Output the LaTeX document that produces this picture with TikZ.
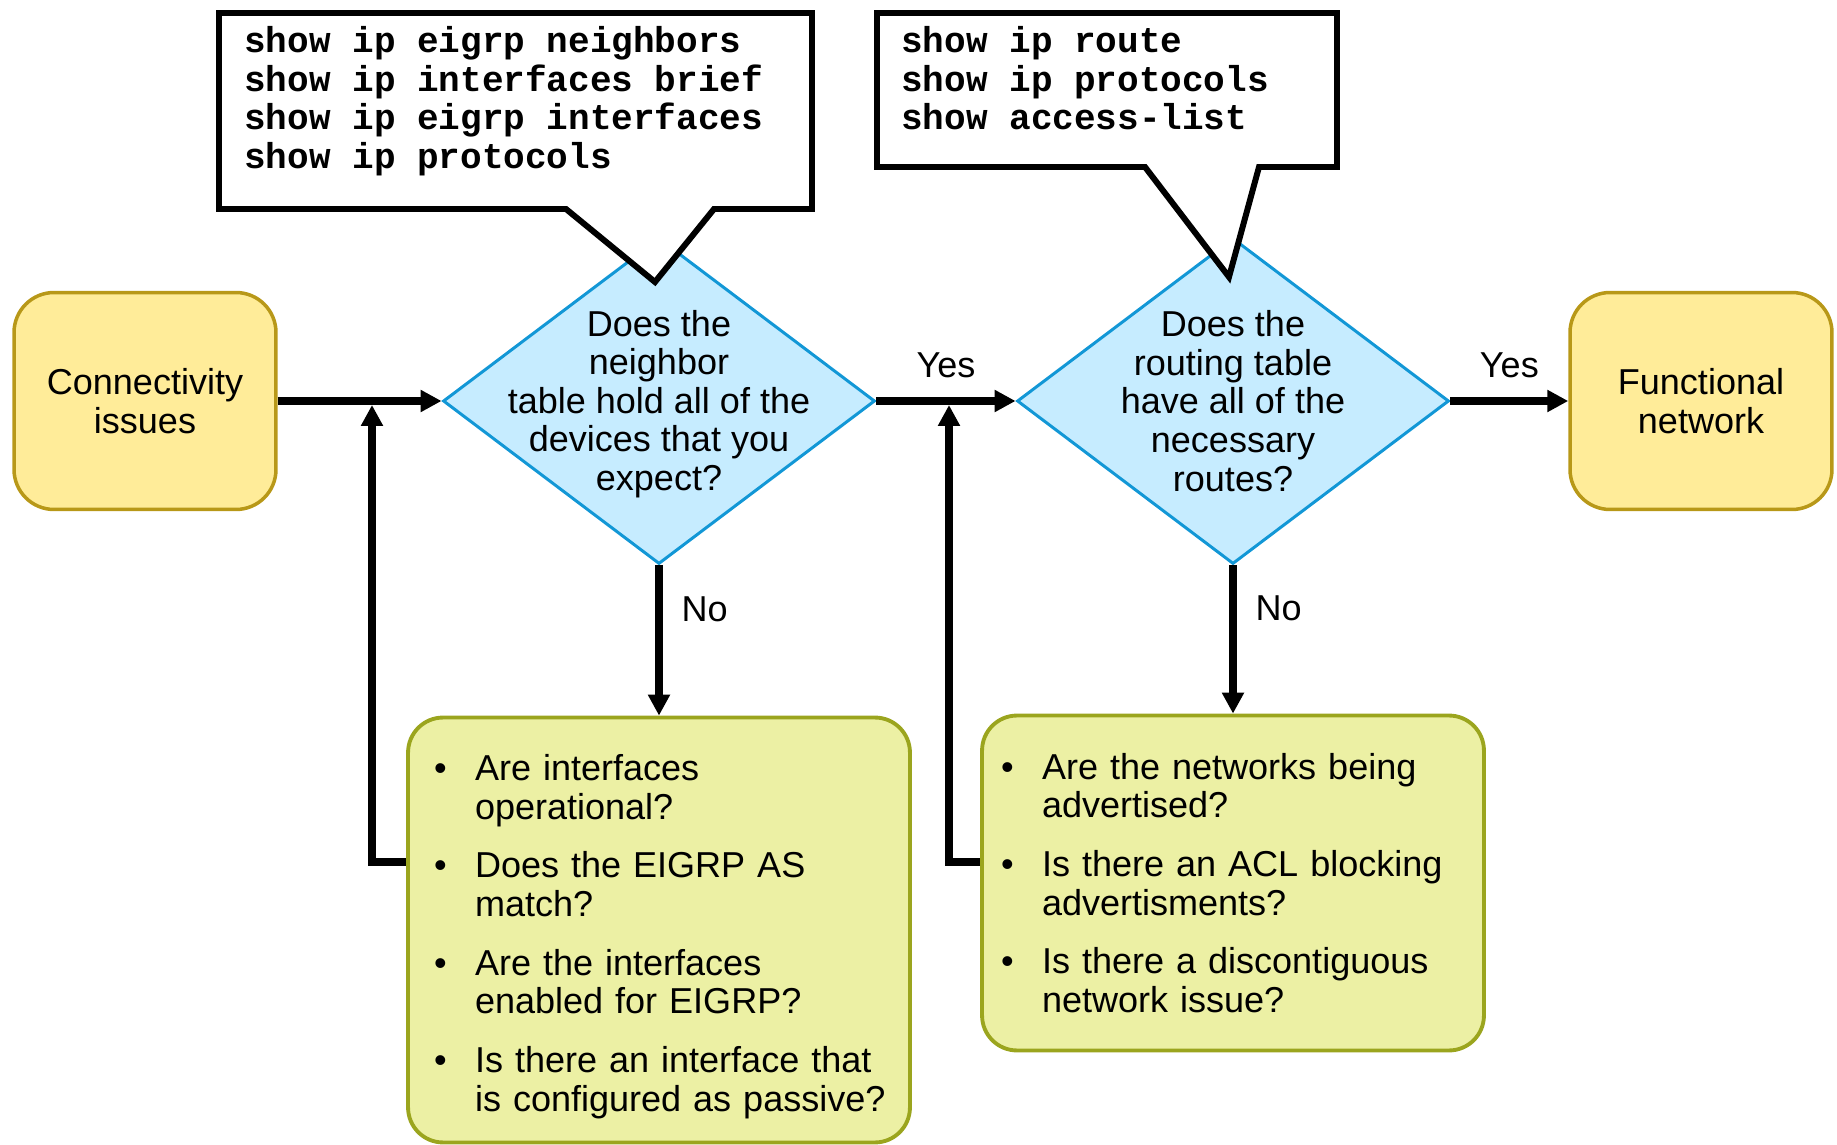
\documentclass[tikz,border=0pt]{standalone}
\usepackage{fontspec}
\setmainfont{Liberation Sans}
\setmonofont{Liberation Mono}
\usetikzlibrary{arrows.meta, positioning, shapes.geometric}
\definecolor{termfill}{RGB}{255,236,153}
\definecolor{termedge}{RGB}{184,152,24}
\definecolor{askfill}{RGB}{198,236,255}
\definecolor{askedge}{RGB}{18,151,214}
\definecolor{checkfill}{RGB}{236,240,164}
\definecolor{checkedge}{RGB}{155,165,30}

\begin{document}
\begin{tikzpicture}[
    x=0.02cm, y=-0.02cm,
    font=\fontsize{20.5}{22}\selectfont,
    terminal/.style={rectangle, draw=termedge, line width=2pt, rounded corners=0.8cm, fill=termfill, minimum width=5.24cm, minimum height=4.34cm, align=center},
    decision/.style={diamond, draw=askedge, line width=1.7pt, fill=askfill, minimum width=8.64cm, minimum height=6.52cm, inner sep=0pt},
    asktext/.style={align=center, inner sep=0pt},
    checks/.style={rectangle, draw=checkedge, line width=2.2pt, rounded corners=0.7cm, fill=checkfill, text width=9cm, inner xsep=0.52cm, align=left},
    cmdbox/.style={draw, line width=3.4pt, fill=white, line join=miter},
    cmdtext/.style={align=left, inner sep=0pt, font=\fontsize{20.5}{22}\selectfont\ttfamily\bfseries},
    arrow/.style={-{Triangle[length=0.42cm, width=0.42cm]}, line width=4.2pt},
    yesno/.style={inner sep=0pt},
]
\useasboundingbox (0,0) rectangle (1837,1145);

% Nodes
\node[terminal] (conn) at (145,401) {Connectivity\\issues};
\node[decision] (d1) at (659,401) {};
\node[asktext] (d1text) at ([yshift=-0.06cm]d1.center) {Does the\\neighbor\\table hold all of the\\devices that you\\expect?};
\node[decision] (d2) at (1233,401) {};
\node[asktext] (d2text) at (d2) {Does the\\routing table\\have all of the\\necessary\\routes?};
\node[terminal] (func) at (1701,401) {Functional\\network};

% Check lists
\node[checks, minimum height=8.5cm] (chk1) at (659,930) {%
\raisebox{-0.16cm}[\height][\depth]{%
\begin{tabular}{@{}p{0.82cm}@{}l@{}}
\textbullet & Are interfaces\\
 & operational?\\[0.4cm]
\textbullet & Does the EIGRP AS\\
 & match?\\[0.4cm]
\textbullet & Are the interfaces\\
 & enabled for EIGRP?\\[0.4cm]
\textbullet & Is there an interface that\\
 & is configured as passive?
\end{tabular}}};
\node[checks, minimum height=6.7cm, text width=9.28cm, inner xsep=0.38cm] (chk2) at (1233,883) {%
\raisebox{-0.1cm}[\height][\depth]{%
\begin{tabular}{@{}p{0.82cm}@{}l@{}}
\textbullet & Are the networks being\\
 & advertised?\\[0.4cm]
\textbullet & Is there an ACL blocking\\
 & advertisments?\\[0.4cm]
\textbullet & Is there a discontiguous\\
 & network issue?
\end{tabular}}};

% Command callouts
\draw[cmdbox] (566,209) -- (219,209) -- (219,13) -- (812,13) -- (812,209) -- (714,209) -- (655,282) -- cycle;
\node[cmdtext, anchor=north west] (cmds1) at (244,26) {show ip eigrp neighbors\\show ip interfaces brief\\show ip eigrp interfaces\\show ip protocols};
\draw[cmdbox] (1145,167) -- (877,167) -- (877,13) -- (1337,13) -- (1337,167) -- (1259,167) -- (1229,277) -- cycle;
\node[cmdtext, anchor=north west] (cmds2) at (901,26) {show ip route\\show ip protocols\\show access-list};

% Arrows
\draw[arrow] (conn) -- (d1);
\draw[arrow] (d1) -- node[yesno, above=0.38cm] {Yes} (d2);
\draw[arrow] (d2) -- node[yesno, above=0.38cm] {Yes} (func);
\draw[arrow] (d1) -- node[yesno, pos=0.29, right=0.38cm] {No} (chk1);
\draw[arrow] (d2) -- node[yesno, pos=0.29, right=0.38cm] {No} (chk2);

% Loop back
\coordinate (loop1) at (372,405);
\coordinate (loop2) at (949,405);
\draw[arrow] (chk1.west |- 0,862) -| (loop1);
\draw[arrow] (chk2.west |- 0,862) -| (loop2);

\end{tikzpicture}
\end{document}
